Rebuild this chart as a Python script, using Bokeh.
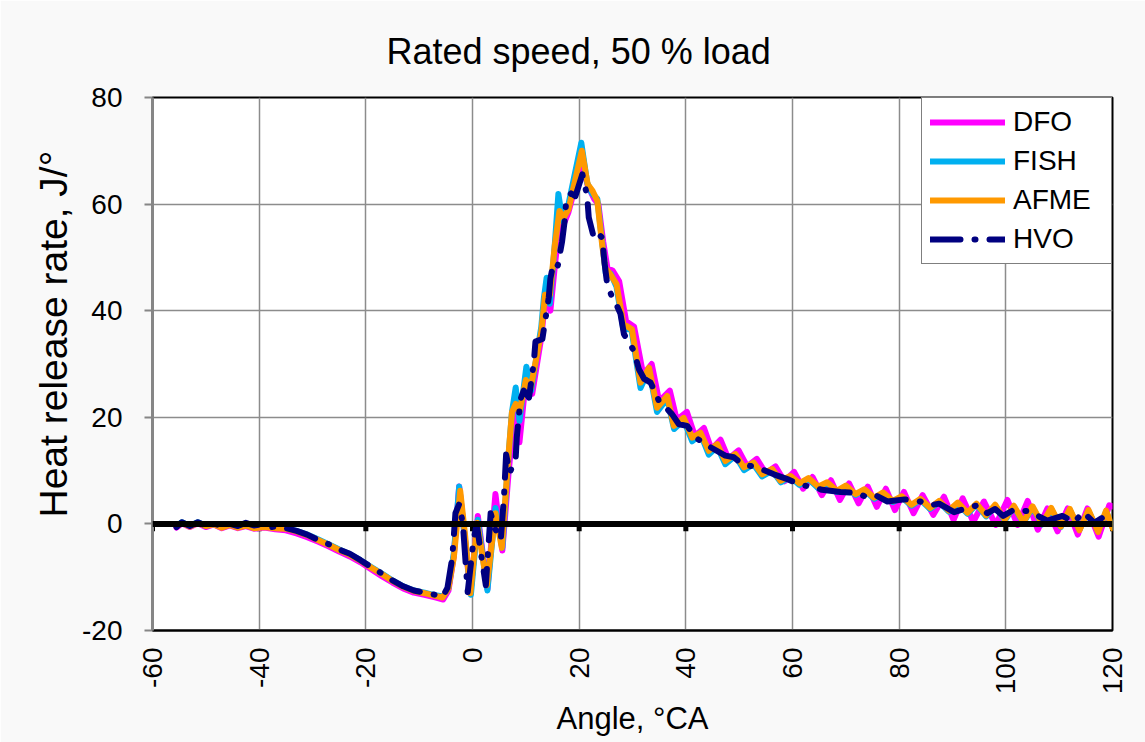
import math
from bokeh.plotting import figure
from bokeh.models import Span, Legend, LegendItem, Title, FixedTicker, Range1d
from bokeh.embed import file_html
from bokeh.resources import INLINE

# ---------------- data ----------------
x_ticks = [-60, -40, -20, 0, 20, 40, 60, 80, 100, 120]
y_ticks = [-20, 0, 20, 40, 60, 80]
series_names = ["DFO", "FISH", "AFME", "HVO"]

dfo_angle = [-55.5, -54.5, -53, -51.5, -50, -48.5, -47, -45.5, -44, -42.5, -41, -39, -37, -35, -33, -31, -29, -27, -25, -23, -21, -19, -17, -15, -13, -11, -9, -7, -5.5,
             -4.5, -3.5, -2.5, -1.5, -0.4, 1.0, 2.8, 4.3, 5.6, 6.8, 7.5, 8.2, 8.8, 10.2, 11.2, 12.9, 13.5, 14.0, 14.6, 15.5, 16.2, 17.0, 18.0, 20.5, 21.6, 22.8, 23.6, 24.5, 25.3, 26.3, 27.5, 28.8,
             30.3, 32, 33.6, 35, 37, 38.3, 40.2, 41.7, 43.4, 44.8, 46.5, 48, 49.9, 51.5, 53.3, 55, 56.8, 58.5, 60.3, 62.0, 63.75, 65.5, 67.2, 68.9, 70.6, 72.4, 74.1, 75.8, 77.5, 79.2,
             80.9, 82.7, 84.4, 86.4, 88.4, 90.2, 91.9, 93.9, 95.9, 98.1, 100.3, 102.2, 104.1, 106.0, 107.8, 109.7, 111.6, 113.5, 115.3, 117.4, 119.4, 120]
dfo_value = [-0.7, 0.1, -0.6, 0.1, -0.6, -0.1, -0.8, -0.3, -0.8, -0.4, -0.9, -0.7, -1.0, -1.2, -1.8, -2.5, -3.3, -4.2, -5.2, -6.1, -7.2, -8.5, -9.8, -11.0, -12.1, -12.9, -13.3, -13.8, -14.2,
             -12.5, -6, 7, -2, -13, 1.5, -12.2, 5.6, -5, 10, 17, 21.5, 15.3, 29, 24.4, 35, 41, 44, 40, 49, 55, 56, 58.5, 68, 63.5, 61, 60, 53, 48, 47.5, 45.5, 38,
             37, 28, 30, 23, 25, 19.5, 21, 16.5, 18, 14, 15.8, 12.2, 13.8, 10.8, 12.2, 9.5, 10.8, 8.0, 9.75, 6.6, 8.8, 5.4, 8.2, 4.5, 7.6, 3.85, 7.0, 3.2, 6.6, 2.6,
             6.0, 2.0, 5.4, 1.7, 5.1, 0.75, 4.8, 0.4, 4.2, -0.2, 4.5, -0.2, 4.3, -1.1, 2.9, -1.4, 2.9, -2.0, 2.9, -2.4, 3.5, 3.3]

fish_angle = [-55.5, -54.5, -53, -51.5, -50, -48.5, -47, -45.5, -44, -42.5, -41, -39, -37, -35, -33, -31, -29, -27, -25, -23, -21, -19, -17, -15, -13, -11, -9, -7, -5.5,
              -4.5, -3.5, -2.5, -1.5, -0.3, 1.0, 2.8, 4.3, 5.6, 6.7, 7.4, 8.1, 8.8, 10.1, 11.0, 12.9, 13.4, 13.9, 14.5, 15.4, 16.1, 16.9, 18, 20.4, 21.5, 22.4, 23.4, 24.3, 25, 25.9, 27, 28.3,
              29.8, 31.5, 33.1, 34.6, 36.5, 37.8, 39.6, 41.2, 42.8, 44.3, 45.9, 47.4, 49.3, 50.9, 52.7, 54.3, 56.2, 57.8, 59.6, 61.3, 63, 64.8, 66.5, 68.3, 70, 71.8, 73.5, 75.3, 77, 78.8,
              80.5, 82.3, 84, 85.8, 87.5, 89.3, 91, 92.8, 94.5, 96.3, 98, 99.8, 101.5, 103.3, 105, 106.8, 108.5, 110.3, 112, 113.8, 115.5, 117.3, 118.8, 120]
fish_value = [-0.4, 0.3, -0.4, 0.3, -0.4, 0.0, -0.6, -0.1, -0.6, -0.2, -0.7, -0.5, -0.7, -0.8, -1.3, -2.0, -2.9, -3.8, -4.8, -5.7, -6.8, -8.1, -9.3, -10.6, -11.7, -12.5, -12.9, -13.4, -13.6,
              -12, -5.5, 7, -2, -13.3, 0.8, -12.5, 3, -4.5, 12, 21, 25.6, 19.3, 29.5, 25, 37, 42.5, 46.2, 41.3, 52, 61.9, 56.8, 60, 71.5, 64, 62, 61, 53, 47, 47, 44.5, 36.5,
              36.5, 25.5, 29, 21, 23.5, 17.8, 19.5, 15.5, 16.8, 13, 14.5, 11.2, 12.8, 10.1, 11.2, 8.9, 10, 7.8, 8.8, 7.3, 8.4, 6.7, 7.6, 6.0, 7.0, 5.4, 6.3, 4.7, 5.7, 4.1,
              5.0, 3.4, 4.5, 2.8, 4.1, 2.3, 3.8, 1.9, 3.6, 1.4, 3.4, 0.6, 3.2, 0.2, 3.1, -0.1, 2.8, -0.6, 2.6, -1.1, 2.4, -1.3, 2.3, -0.6]

afme_angle = [-55.5, -54.5, -53, -51.5, -50, -48.5, -47, -45.5, -44, -42.5, -41, -39, -37, -35, -33, -31, -29, -27, -25, -23, -21, -19, -17, -15, -13, -11, -9, -7, -5.6,
              -4.5, -3.5, -2.3, -1.4, -0.4, 0.9, 2.7, 4.3, 5.5, 6.75, 7.4, 8.1, 8.8, 10, 10.9, 12.9, 13.6, 14.5, 15.4, 16.3, 17.1, 18, 20.5, 21.6, 22.5, 23.4, 24.3, 24.9, 25.8, 27, 28.3,
              29.9, 31.5, 33.1, 34.6, 36.5, 37.75, 39.6, 41.2, 42.75, 44.3, 45.9, 47.4, 49.3, 50.9, 52.7, 54.3, 56.2, 57.75, 59.6, 61.3, 63, 64.8, 66.5, 68.3, 70, 71.8, 73.5, 75.3, 77, 78.8,
              80.5, 82.3, 84, 85.8, 87.5, 89.3, 91, 92.8, 94.5, 96.3, 98, 99.8, 101.5, 103.3, 105, 106.8, 108.5, 110.3, 112, 113.8, 115.5, 117.3, 118.8, 120]
afme_value = [-0.5, 0.2, -0.5, 0.2, -0.4, -0.1, -0.7, -0.2, -0.7, -0.3, -0.8, -0.6, -0.8, -0.9, -1.4, -2.1, -3.0, -3.9, -4.9, -5.8, -6.9, -8.2, -9.4, -10.7, -11.8, -12.6, -13.0, -13.5, -13.8,
              -12, -6.3, 6.2, -2, -13, 0.2, -11.5, 2, -4.5, 13, 21, 22.5, 21, 27, 25.5, 36, 43, 43, 52, 58.7, 57.5, 59, 70, 63.7, 62.5, 60.6, 52.5, 48, 46.9, 45, 37.5,
              36.5, 26.5, 29.3, 21.8, 24, 18.4, 19.9, 16.2, 17.1, 13.7, 14.95, 11.8, 13.1, 10.6, 11.5, 9.3, 10.3, 8.1, 9.0, 7.6, 8.6, 7.0, 7.8, 6.2, 7.2, 5.6, 6.5, 4.9, 5.9, 4.3,
              5.2, 3.6, 4.7, 3.0, 4.3, 2.5, 4.0, 2.1, 3.8, 1.6, 3.6, 0.8, 3.4, 0.3, 3.3, 0.0, 3.0, -0.5, 2.8, -1.2, 2.6, -1.5, 2.5, -0.8]

hvo_angle = [-55.5, -54.5, -53, -51.5, -50, -48.5, -47, -45.5, -44, -42.5, -41, -39.5, -38, -36.5, -35, -33, -31, -29, -27, -25, -23, -21, -19, -17, -15, -13, -11, -9, -7, -5.6,
             -4.7, -3.8, -3.2, -2.5, -1.8, -0.9, 0.2, 0.8, 1.5, 2.5, 3.4, 4.3, 5.3, 5.9, 6.3, 7.0, 8.1, 8.3, 9.0, 9.6, 10.6, 11.5, 11.8, 13.1, 14.3, 14.6, 15.2, 16.0, 16.8, 17.3, 17.6,
             18.5, 19.3, 20.6, 21.5, 21.8, 22.75, 23.5, 24.3, 24.75, 25.25, 26, 26.6, 27.75, 28.4, 30.25, 31.2, 32.2, 33.4, 34.9, 37.4, 38.7, 40.25, 41.8, 44.6, 47.4, 49, 50.6, 53.4,
             56.5, 59.3, 61.5, 63.5, 65.5, 69, 72, 74, 75.5, 77.8, 81, 84, 86, 87.5, 90.3, 92.5, 94.7, 96.5, 98, 99.5, 101.6, 104.7, 106, 107.8, 110.6, 112.8, 114.5, 116.6, 118]
hvo_value = [-0.6, 0.3, -0.4, 0.3, -0.3, 0.1, -0.5, 0.0, -0.4, 0.2, -0.3, -0.1, -0.6, -0.5, -0.8, -1.3, -2.0, -3.0, -3.8, -4.8, -5.6, -6.8, -8.1, -9.3, -10.6, -11.7, -12.5, -12.9, -13.3, -13.7,
             -12, -6.4, 2, 3.7, 0, -12.8, -3, 0, -5, -11.5, 2, -1, -3, 5, 13, 9.6, 12.4, 16.2, 23.4, 25, 23.7, 30.3, 34.2, 34.7, 42.5, 46, 49, 48.5, 53, 57, 61,
             62, 61.5, 65.6, 61.5, 57.5, 53.7, 54.5, 53.7, 49, 45, 43, 42, 39.4, 35.6, 32.5, 29, 27.2, 26.5, 23.2, 20.6, 18.7, 18.4, 16.2, 14.4, 12.8, 12.5, 11.2, 10.6,
             9.3, 8.3, 7.3, 7.0, 6.4, 6.0, 5.8, 5.0, 5.4, 4.2, 4.6, 4.2, 3.5, 3.8, 2.2, 2.9, 3.5, 2.0, 2.8, 1.5, 2.7, 2.3, 1.5, 0.6, 1.5, 0.3, 2.2, 0.2, 1.1]

colors = {"DFO": "#FF00FF", "FISH": "#00B0F0", "AFME": "#FF9900", "HVO": "#000080"}

# ---------------- figure ----------------
FONT = "Liberation Sans"
p = figure(frame_width=960, frame_height=533,
           min_border_left=152, min_border_right=33, min_border_top=97, min_border_bottom=112,
           x_range=Range1d(-60, 120), y_range=Range1d(-20, 80),
           output_backend="svg", toolbar_location=None)
p.background_fill_color = "white"
p.border_fill_color = "#f9f9f9"
p.outline_line_color = "black"
p.outline_line_width = 2

p.title.text = "Rated speed, 50 % load"
p.title.align = "left"
p.title.offset = 234
p.title.text_font = FONT
p.title.text_font_size = "36px"
p.title.text_font_style = "normal"
p.title.text_color = "black"
p.title.standoff = 51

# axes
p.xaxis.ticker = FixedTicker(ticks=x_ticks)
p.yaxis.ticker = FixedTicker(ticks=y_ticks)
p.xaxis.major_label_overrides = {t: str(t) for t in x_ticks}
p.yaxis.major_label_overrides = {t: str(t) for t in y_ticks}
p.xaxis.major_label_orientation = math.pi / 2
p.xaxis.major_tick_out = 0
p.xaxis.major_tick_in = 0
p.xaxis.minor_tick_out = 0
p.xaxis.minor_tick_in = 0
p.xaxis.axis_line_color = "black"
p.xaxis.axis_line_width = 2
p.xaxis.major_label_standoff = 17
p.xaxis.axis_label = "Angle, °CA"
p.xaxis.axis_label_text_font = FONT
p.xaxis.axis_label_text_font_size = "31px"
p.xaxis.axis_label_text_font_style = "normal"
p.xaxis.axis_label_text_color = "black"
p.xaxis.axis_label_standoff = 4

p.yaxis.major_tick_out = 8
p.yaxis.major_tick_in = 0
p.yaxis.minor_tick_out = 0
p.yaxis.minor_tick_in = 0
p.yaxis.major_tick_line_color = "#868686"
p.yaxis.major_tick_line_width = 2
p.yaxis.axis_line_color = "#868686"
p.yaxis.axis_line_width = 3
p.yaxis.major_label_standoff = 22

for ax in (p.xaxis, p.yaxis):
    ax.major_label_text_font = FONT
    ax.major_label_text_font_size = "28px"
    ax.major_label_text_color = "black"

ylab = Title(text="Heat release rate, J/°", align="left", offset=113,
             text_font=FONT, text_font_size="39px", text_font_style="normal",
             text_color="black", standoff=10)
p.add_layout(ylab, "left")

p.xgrid.ticker = FixedTicker(ticks=x_ticks)
p.ygrid.ticker = FixedTicker(ticks=y_ticks)
for g in (p.xgrid, p.ygrid):
    g.grid_line_color = "#8c8c8c"
    g.grid_line_width = 1.5

# zero line with tick marks
p.add_layout(Span(location=0, dimension="width", line_color="black", line_width=6))
p.segment(x0=x_ticks, y0=[0] * len(x_ticks), x1=x_ticks, y1=[-1.4] * len(x_ticks),
          line_color="black", line_width=5)

# series
LW = 6
r_dfo = p.line(dfo_angle, dfo_value, line_color=colors["DFO"], line_width=LW, line_join="round", line_cap="round")
r_fish = p.line(fish_angle, fish_value, line_color=colors["FISH"], line_width=LW, line_join="round", line_cap="round")
r_afme = p.line(afme_angle, afme_value, line_color=colors["AFME"], line_width=LW, line_join="round", line_cap="round")
r_hvo = p.line(hvo_angle, hvo_value, line_color=colors["HVO"], line_width=LW, line_join="round", line_cap="round",
               line_dash="30 14 1 14")

legend = Legend(items=[LegendItem(label=series_names[0], renderers=[r_dfo]),
                       LegendItem(label=series_names[1], renderers=[r_fish]),
                       LegendItem(label=series_names[2], renderers=[r_afme]),
                       LegendItem(label=series_names[3], renderers=[r_hvo])],
                location="top_right", margin=0, padding=8, spacing=7,
                glyph_width=75, glyph_height=30, label_height=30, label_width=90,
                label_standoff=8, label_text_font=FONT, label_text_font_size="28px",
                label_text_color="black",
                border_line_color="black", border_line_width=1.5,
                background_fill_color="white", background_fill_alpha=1.0)
p.add_layout(legend)

open("out.html", "w").write(file_html(p, INLINE))
